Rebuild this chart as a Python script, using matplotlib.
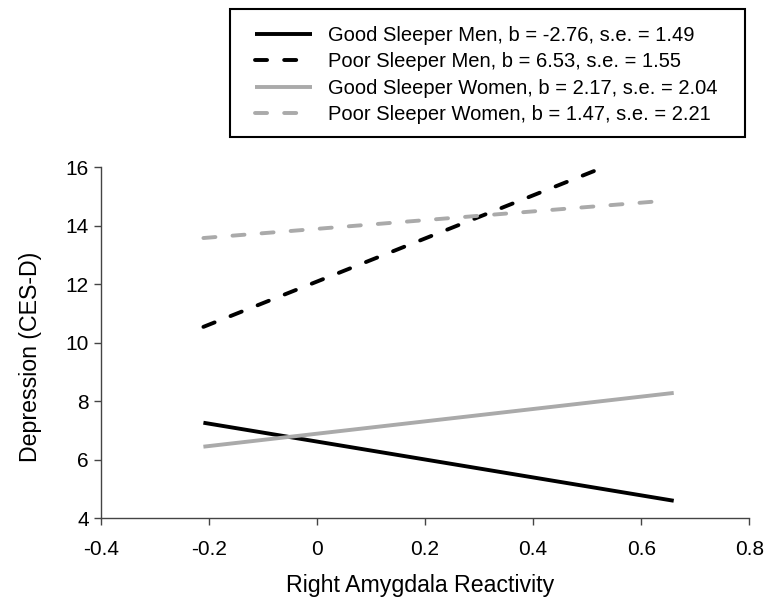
import matplotlib
matplotlib.use("Agg")
import matplotlib.pyplot as plt
from matplotlib.patches import Rectangle

plt.rcParams['font.family'] = ['Liberation Sans', 'DejaVu Sans']

labels = [
    "Good Sleeper Men, b = -2.76, s.e. = 1.49",
    "Poor Sleeper Men, b = 6.53, s.e. = 1.55",
    "Good Sleeper Women, b = 2.17, s.e. = 2.04",
    "Poor Sleeper Women, b = 1.47, s.e. = 2.21",
]
x_gsm = [-0.21, 0.66]
y_gsm = [7.26, 4.59]
x_psm = [-0.21, 0.53]
y_psm = [10.54, 16.0]
x_gsw = [-0.21, 0.66]
y_gsw = [6.44, 8.28]
x_psw = [-0.21, 0.64]
y_psw = [13.58, 14.85]

xticks = [-0.4, -0.2, 0, 0.2, 0.4, 0.6, 0.8]
xticklabels = ["-0.4", "-0.2", "0", "0.2", "0.4", "0.6", "0.8"]
yticks = [4, 6, 8, 10, 12, 14, 16]

W, H = 771, 599
fig = plt.figure(figsize=(W / 100, H / 100), dpi=100)
ax = fig.add_axes([100.7 / W, 1 - 518 / H, (749.4 - 100.7) / W, (518 - 167.3) / H])

black = "#000000"
gray = "#aaaaaa"
lw = 2.8
dash = (3.1, 4.4)
h1, = ax.plot(x_gsm, y_gsm, color=black, lw=lw, solid_capstyle='butt', label=labels[0])
h2, = ax.plot(x_psm, y_psm, color=black, lw=lw, dashes=dash, dash_capstyle='round',
              label=labels[1], clip_on=False)
h3, = ax.plot(x_gsw, y_gsw, color=gray, lw=lw, solid_capstyle='butt', label=labels[2])
h4, = ax.plot(x_psw, y_psw, color=gray, lw=lw, dashes=dash, dash_capstyle='round',
              label=labels[3])

ax.set_xlim(-0.4, 0.8)
ax.set_ylim(4, 16)
ax.set_xticks(xticks)
ax.set_xticklabels(xticklabels)
ax.set_yticks(yticks)
for s in ['top', 'right']:
    ax.spines[s].set_visible(False)
for s in ['left', 'bottom']:
    ax.spines[s].set_color('#444444')
    ax.spines[s].set_linewidth(1.0)
ax.tick_params(axis='both', direction='out', length=5, width=1.0, color='#444444',
               labelsize=15)
ax.tick_params(axis='x', pad=10.5)
ax.tick_params(axis='y', pad=3.5)
ax.set_xlabel("Right Amygdala Reactivity", fontsize=16.7, labelpad=11)
ax.set_ylabel("Depression (CES-D)", fontsize=16.7, labelpad=17)
ax.xaxis.label.set_x(0.493)
ax.yaxis.label.set_y(0.459)

leg = fig.legend(handles=[h1, h2, h3, h4], loc='upper left',
                 bbox_to_anchor=(255 / W, 1 - 26 / H),
                 fontsize=14.5, frameon=False,
                 handlelength=2.85, handletextpad=0.75, labelspacing=0.37,
                 borderpad=0.0, borderaxespad=0.0)
fig.patches.append(Rectangle((230 / W, 1 - 137 / H), (745 - 230) / W, (137 - 9) / H,
                             transform=fig.transFigure, fill=False,
                             edgecolor='black', linewidth=1.5))

fig.savefig("out.png", dpi=100)
